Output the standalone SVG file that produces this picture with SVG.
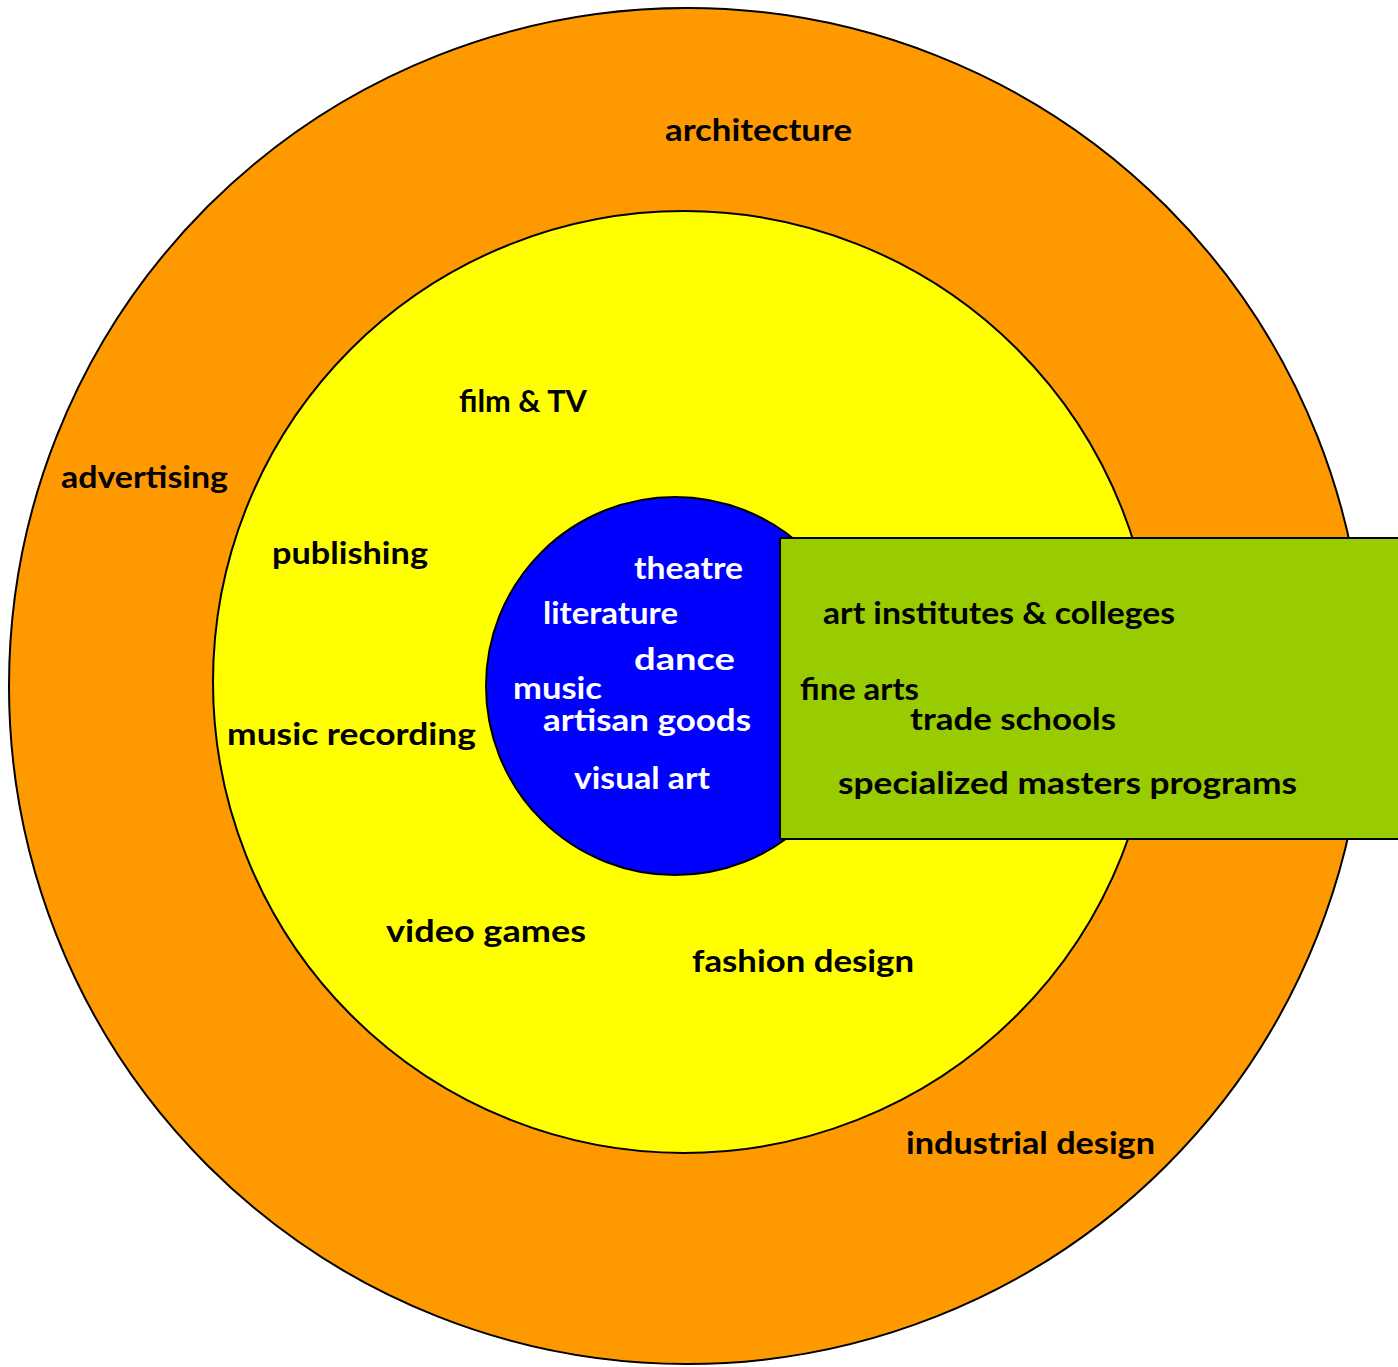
<svg xmlns="http://www.w3.org/2000/svg" width="1398" height="1367" viewBox="0 0 1398 1367">
<style>
text{font-family:"Lato","DejaVu Sans",sans-serif;font-weight:bold;font-size:30px;fill:#000}
.w{fill:#fff}
.ring{stroke:#000;stroke-width:2}
</style>
<rect width="1398" height="1367" fill="#fff"/>
<g id="outer">
<circle class="ring" cx="687" cy="686" r="678" fill="#FF9900"/>
<text x="665" y="141" textLength="187" lengthAdjust="spacingAndGlyphs">architecture</text>
<text x="61" y="488" textLength="167" lengthAdjust="spacingAndGlyphs">advertising</text>
<text x="906" y="1154" textLength="249" lengthAdjust="spacingAndGlyphs">industrial design</text>
</g>
<g id="middle">
<circle class="ring" cx="684" cy="682" r="471" fill="#FFFF00"/>
<text x="459" y="412" textLength="128" lengthAdjust="spacingAndGlyphs">film &amp; TV</text>
<text x="272" y="564" textLength="156" lengthAdjust="spacingAndGlyphs">publishing</text>
<text x="227" y="745" textLength="249" lengthAdjust="spacingAndGlyphs">music recording</text>
<text x="386" y="942" textLength="200" lengthAdjust="spacingAndGlyphs">video games</text>
<text x="692" y="972" textLength="222" lengthAdjust="spacingAndGlyphs">fashion design</text>
</g>
<g id="core">
<circle class="ring" cx="675" cy="686" r="189" fill="#0000FF"/>
<text class="w" x="634" y="579" textLength="109" lengthAdjust="spacingAndGlyphs">theatre</text>
<text class="w" x="543" y="624" textLength="135" lengthAdjust="spacingAndGlyphs">literature</text>
<text class="w" x="634" y="670" textLength="101" lengthAdjust="spacingAndGlyphs">dance</text>
<text class="w" x="513" y="699" textLength="89" lengthAdjust="spacingAndGlyphs">music</text>
<text class="w" x="543" y="731" textLength="208" lengthAdjust="spacingAndGlyphs">artisan goods</text>
<text class="w" x="574" y="789" textLength="136" lengthAdjust="spacingAndGlyphs">visual art</text>
</g>
<g id="education">
<rect class="ring" x="780" y="538" width="630" height="301" fill="#99CC00"/>
<text x="823" y="624" textLength="352" lengthAdjust="spacingAndGlyphs">art institutes &amp; colleges</text>
<text x="800" y="700" textLength="119" lengthAdjust="spacingAndGlyphs">fine arts</text>
<text x="910" y="730" textLength="206" lengthAdjust="spacingAndGlyphs">trade schools</text>
<text x="838" y="794" textLength="459" lengthAdjust="spacingAndGlyphs">specialized masters programs</text>
</g>
<g id="connectors"></g>
</svg>
